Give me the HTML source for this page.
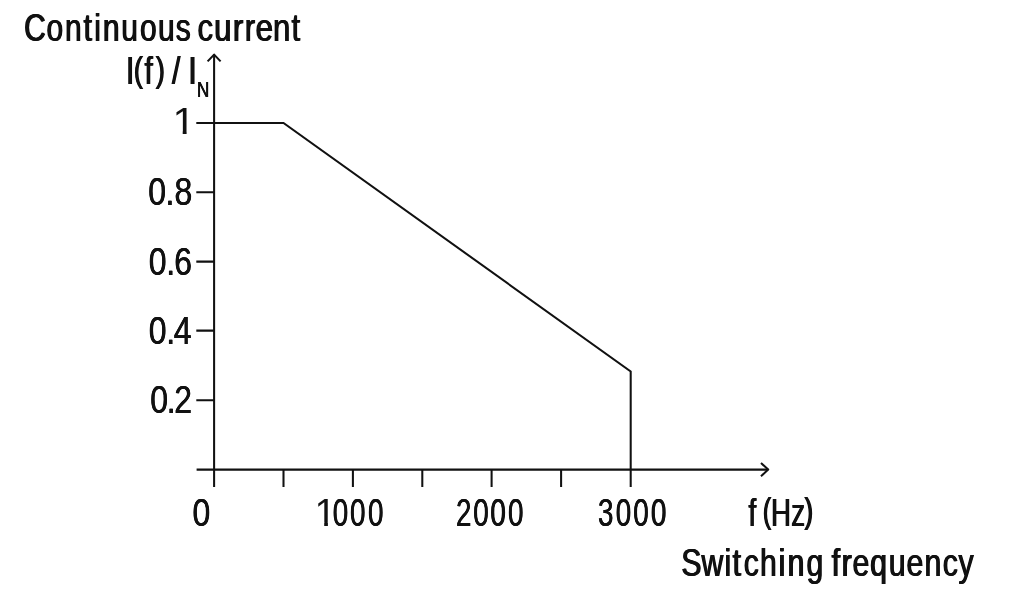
<!DOCTYPE html>
<html>
<head>
<meta charset="utf-8">
<title>Continuous current vs switching frequency</title>
<style>
html,body{margin:0;padding:0;background:#fff;}
body{width:1024px;height:609px;overflow:hidden;}
svg{display:block;}
text{font-family:"Liberation Sans",sans-serif;fill:#111;font-size:38.4px;text-shadow:0.62px 0 0 #111,-0.62px 0 0 #111;}
text.ns{text-shadow:none;}
text.dy{text-shadow:0.28px 0 0 #111,-0.28px 0 0 #111;}
text.dx{text-shadow:0.36px 0 0 #111,-0.36px 0 0 #111;}
text.n{text-shadow:0.3px 0 0 #111,-0.3px 0 0 #111;}
.ln{stroke:#111;stroke-width:2.05;fill:none;}
</style>
</head>
<body>
<svg width="1024" height="609" viewBox="0 0 1024 609">
<defs><clipPath id="c1"><rect x="170.48" y="94.10" width="20.02" height="36.80"/><rect x="182.70" y="94.10" width="3.90" height="45.00"/></clipPath><clipPath id="c2"><rect x="312.56" y="485.70" width="19.24" height="36.75"/><rect x="324.21" y="485.70" width="3.69" height="45.00"/></clipPath></defs>
<rect width="1024" height="609" fill="#fff"/>
<!-- axes -->
<g class="ln">
<path d="M214.1 54.6V487.1"/>
<path d="M207.6 61.4L214.1 54.6L220.6 61.4" stroke-linejoin="round"/>
<path d="M196.6 469.6H768.2"/>
<path d="M761.0 463.0L768.2 469.6L761.0 476.2" stroke-linejoin="round"/>
<!-- y ticks -->
<path d="M196.3 122.9H214.1M196.3 192.2H214.1M196.3 261.6H214.1M196.3 330.6H214.1M196.3 400.3H214.1"/>
<!-- x ticks -->
<path d="M283.5 469.6V487.1M352.9 469.6V487.1M422.3 469.6V487.1M491.6 469.6V487.1M561.1 469.6V487.1M630.7 469.6V487.1"/>
<!-- curve -->
<path d="M214.1 122.9H283.5L630.7 371.5V469.6" stroke-linejoin="miter"/>
</g>
<!-- labels -->
<text class="t" transform="scale(0.7564,1)" x="31.92 61.37 85.99 110.55 124.51 136.03 160.35 184.98 209.00 232.39" y="40.9" style="font-size:39.6px">Continuous</text>
<text class="t" transform="scale(0.7882,1)" x="250.50 271.62 295.51 310.55 324.35 346.42 369.82" y="40.9" style="font-size:39.6px">current</text>
<text class="t" transform="scale(0.7800,1)" x="161.46 171.57 185.26 199.59 212.37 220.63 231.30 241.46" y="83.6" style="font-size:38.4px">I<tspan dy="-1.27" style="font-size:35.4px">(</tspan><tspan dy="1.27">f</tspan><tspan dy="-1.27" style="font-size:35.4px">)</tspan><tspan dy="1.27"> / I</tspan></text>
<text class="n" transform="scale(0.7801,1)" x="252.40" y="97.3" style="font-size:21.8px">N</text>
<g clip-path="url(#c1)"><text class="ns" transform="scale(1.100,1)" x="156.80" y="134.1" style="font-size:37.5px">1</text></g>
<text class="dy" transform="scale(0.8150,1)" x="182.04 202.96 214.07" y="205.2" style="font-size:39.2px">0.8</text>
<text class="dy" transform="scale(0.8150,1)" x="182.47 204.00 213.75" y="274.8" style="font-size:39.2px">0.6</text>
<text class="dy" transform="scale(0.8150,1)" x="182.53 204.00 213.21" y="343.6" style="font-size:39.2px">0.4</text>
<text class="dy" transform="scale(0.8150,1)" x="184.31 204.59 213.82" y="413.0" style="font-size:39.2px">0.2</text>
<text class="dy" transform="scale(0.8150,1)" x="236.34" y="526.0" style="font-size:39.2px">0</text>
<g clip-path="url(#c2)"><text class="ns" transform="scale(1.020,1)" x="308.39" y="525.7" style="font-size:38.2px">1</text></g><text class="dx" transform="scale(0.7000,1)" x="475.39 499.96 525.67" y="525.9" style="font-size:39.7px">000</text>
<text class="dx" transform="scale(0.7000,1)" x="651.53 676.10 700.53 725.67" y="525.9" style="font-size:39.7px">2000</text>
<text class="dx" transform="scale(0.7000,1)" x="854.22 879.60 904.57 929.89" y="525.9" style="font-size:39.7px">3000</text>
<text class="t" transform="scale(0.7200,1)" x="1039.64 1050.31 1059.43 1070.78 1098.84 1117.53" y="525.6" style="font-size:38.4px">f <tspan dy="-2.17" style="font-size:35.4px">(</tspan><tspan dy="2.17">Hz</tspan><tspan dy="-2.17" style="font-size:35.4px">)</tspan></text>
<text class="t" transform="scale(0.7728,1)" x="881.70 907.83 937.40 948.00 962.33 983.39 1007.54 1019.16 1043.57" y="575.9" style="font-size:39.0px">Switching</text>
<text class="t" transform="scale(0.7776,1)" x="1069.51 1082.36 1096.32 1118.96 1142.99 1165.77 1188.98 1212.49 1232.60" y="575.9" style="font-size:39.0px">frequency</text>
</svg>
</body>
</html>
